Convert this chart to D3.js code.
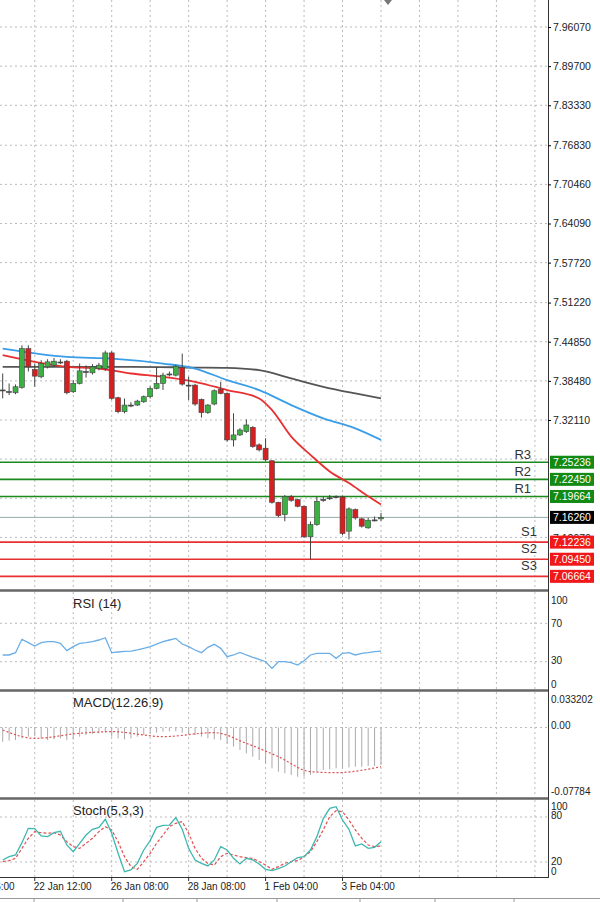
<!DOCTYPE html>
<html>
<head>
<meta charset="utf-8">
<script src="https://cdn.jsdelivr.net/npm/d3@7"></script>
<style>
  body { margin: 0; background: #fff; }
  text { font-family: "Liberation Sans", "DejaVu Sans", sans-serif; }
</style>
</head>
<body>
<div id="chart"></div>
<script>
// candles: open, high, low, close
const opens  = [7.3700,7.3670,7.3654,7.3741,7.4373,7.4033,7.3914,7.4076,7.4103,7.4152,7.4168,7.3671,7.3806,7.3995,7.3979,7.4049,7.4049,7.4303,7.3573,7.3346,7.3454,7.3454,7.3508,7.3590,7.3725,7.3806,7.3957,7.3941,7.4065,7.3779,7.3779,7.3546,7.3330,7.3471,7.3708,7.3644,7.2887,7.2968,7.3022,7.3092,7.2806,7.2752,7.2547,7.1872,7.1672,7.1969,7.1915,7.1807,7.1310,7.1510,7.1915,7.1942,7.1960,7.1958,7.1402,7.1753,7.1602,7.1456,7.1580,7.1602];
const closes = [7.3695,7.3675,7.3752,7.4373,7.4076,7.3925,7.4130,7.4157,7.4168,7.4155,7.3654,7.3806,7.4011,7.4000,7.4076,7.4103,7.4303,7.3563,7.3346,7.3454,7.3450,7.3519,7.3590,7.3725,7.3806,7.3941,7.3960,7.4087,7.3795,7.3775,7.3471,7.3330,7.3454,7.3687,7.3644,7.2887,7.2968,7.3049,7.3130,7.2779,7.2725,7.2563,7.1872,7.1655,7.1969,7.1904,7.1807,7.1310,7.1510,7.1888,7.1918,7.1945,7.1965,7.1364,7.1764,7.1618,7.1483,7.1580,7.1585,7.1626];
const highs  = [7.3968,7.3806,7.3790,7.4427,7.4427,7.4130,7.4184,7.4200,7.4220,7.4200,7.4190,7.3860,7.4130,7.4100,7.4120,7.4140,7.4340,7.4330,7.3590,7.3560,7.3500,7.3540,7.3610,7.3760,7.4076,7.3980,7.4000,7.4110,7.4292,7.3914,7.3800,7.3560,7.3470,7.3710,7.3830,7.3660,7.3320,7.3080,7.3220,7.3110,7.2830,7.2914,7.2560,7.1880,7.1990,7.1990,7.1930,7.1820,7.1560,7.1960,7.1970,7.1990,7.1985,7.1980,7.1790,7.1770,7.1620,7.1620,7.1640,7.1700];
const lows   = [7.3563,7.3617,7.3630,7.3720,7.4000,7.3752,7.3890,7.4050,7.4080,7.4120,7.3630,7.3650,7.3790,7.3900,7.3950,7.4020,7.4010,7.3540,7.3320,7.3320,7.3420,7.3440,7.3490,7.3560,7.3710,7.3700,7.3920,7.3920,7.3770,7.3536,7.3440,7.3250,7.3310,7.3450,7.3630,7.2860,7.2780,7.2950,7.3000,7.2760,7.2700,7.2540,7.1850,7.1630,7.1563,7.1880,7.1790,7.1290,7.0942,7.1490,7.1880,7.1910,7.1945,7.1340,7.1267,7.1590,7.1460,7.1440,7.1560,7.1570];

// moving averages read at sample candles
const maFastIdx = [0,5,10,15,20,25,30,35,40,42,45,48,51,54,57,59];
const maFast    = [7.4265,7.4157,7.4076,7.4049,7.3968,7.3914,7.3833,7.3698,7.3562,7.3373,7.2941,7.2644,7.2374,7.2185,7.1969,7.1834];
const maMidIdx  = [0,10,17,25,30,35,40,45,50,55,59];
const maMid     = [7.4373,7.4238,7.4211,7.4130,7.4049,7.3860,7.3698,7.3454,7.3238,7.3076,7.2887];
const maSlowIdx = [0,10,20,30,35,40,45,50,55,59];
const maSlow    = [7.4076,7.4076,7.4076,7.4065,7.4060,7.4022,7.3887,7.3752,7.3643,7.3563];

const priceTicks = [7.96070,7.89700,7.83330,7.76830,7.70460,7.64090,7.57720,7.51220,7.44850,7.38480,7.32110];
const levelNames = ["R3","R2","R1","S1","S2","S3"];
const levelValues = [7.25236,7.22450,7.19664,7.12236,7.09450,7.06664];
const lastPrice = 7.16260;

const rsi = [37,37,39.4,53.3,49.8,46.3,49.8,50.9,50.9,49.1,41.5,45.7,49.1,49.8,50.9,52.6,55,39.4,40.1,40.8,41.1,42.2,43.9,45.7,48.4,50.9,52.6,54.3,48.4,45.7,42.2,39.4,45,48.1,43.9,35.2,37,39.7,37,34.5,32.4,30,23,30,30,29,26.5,31,37,38.7,38.7,38.7,33.5,38.7,39.4,37,38.7,39.4,40.5,41.1];
const macd = [-0.0171,-0.0159,-0.0151,-0.0131,-0.0110,-0.0102,-0.0131,-0.0151,-0.0143,-0.0131,-0.0151,-0.0143,-0.0110,-0.0090,-0.0078,-0.0070,-0.0062,-0.0110,-0.0131,-0.0143,-0.0131,-0.0110,-0.0090,-0.0070,-0.0062,-0.0050,-0.0046,-0.0046,-0.0062,-0.0078,-0.0090,-0.0110,-0.0131,-0.0143,-0.0151,-0.0191,-0.0231,-0.0271,-0.0312,-0.0352,-0.0392,-0.0433,-0.0493,-0.0533,-0.0553,-0.0573,-0.0594,-0.0594,-0.0573,-0.0533,-0.0513,-0.0505,-0.0493,-0.0493,-0.0481,-0.0473,-0.0473,-0.0465,-0.0465,-0.0453];
const macdSigIdx = [0,5,12,17,25,33,38,43,48,52,59];
const macdSig    = [-0.0030,-0.0131,-0.0070,-0.0050,-0.0110,-0.0062,-0.0191,-0.0352,-0.0533,-0.0545,-0.0473];
const stochK = [22.7,27.1,29.4,45.8,64.9,64.5,54.7,53.8,59.1,60.9,42.7,33.8,44.9,56,63.6,66.2,76.9,58.2,31.6,7.1,9.4,18.2,36,48.5,66.2,68.9,69.3,79.1,63.6,38.2,22.7,18.2,14.7,22.7,40.5,36,24.9,17.4,24.9,22.7,17.4,10.2,8.5,11.1,14.7,20.4,25.8,27.1,36,53.8,77.8,91.6,93.8,76,63.6,41.4,44,38.2,39.6,47.1];
const stochD = [20.4,21.8,24.9,38.2,51.6,60.4,59.1,58.2,59.1,56,47.1,40.5,38.2,44.9,51.6,60.4,67.1,62.7,47.1,27.1,13.8,10.2,20.4,31.6,44.9,56,67.1,71.6,73.8,58.2,38.2,24.9,18.2,16,27.1,31.6,29.4,27.1,25.8,24.9,20.4,16,10.2,13.8,18.2,20.4,21.8,27.1,33.8,47.1,62.7,80.5,88.5,87.1,76,62.7,51.6,42.7,40.5,41.4];

const timeIdx = [-7,5,17,29,41,53];
const timeLabels = ["20 Jan 16:00","22 Jan 12:00","26 Jan 08:00","28 Jan 08:00","1 Feb 04:00","3 Feb 04:00"];

const W = 600, H = 902, plotR = 548;
const svg = d3.select("#chart").append("svg").attr("width", W).attr("height", H);

const x = d3.scaleLinear().domain([0, 59]).range([2.7, 381]);
const y = d3.scaleLinear().domain([7.32110, 7.96070]).range([420, 27]);

// panels: [top, bottom]
const panels = [[0, 589], [592, 689], [692, 797], [800, 877]];

// vertical grid
const gridIdx = d3.range(-1, 90, 6).filter((i) => x(i) > 0 && x(i) < plotR);
panels.forEach(([t, b]) => {
  svg.append("g").selectAll("line").data(gridIdx).join("line")
    .attr("x1", (i) => x(i)).attr("x2", (i) => x(i))
    .attr("y1", t).attr("y2", b)
    .attr("stroke", "#bbb").attr("stroke-dasharray", "2,3");
});

// main horizontal grid
svg.append("g").selectAll("line").data(priceTicks).join("line")
  .attr("x1", 0).attr("x2", plotR).attr("y1", (d) => y(d)).attr("y2", (d) => y(d))
  .attr("stroke", "#bbb").attr("stroke-dasharray", "2,3");
[7.25740, 7.19370, 7.13000, 7.06630].forEach((v) => {
  svg.append("line").attr("x1", 0).attr("x2", plotR).attr("y1", y(v)).attr("y2", y(v))
    .attr("stroke", "#bbb").attr("stroke-dasharray", "2,3");
});

// pivot levels
levelValues.forEach((v, i) => {
  const col = i < 3 ? "#1c8a1c" : "#e83030";
  svg.append("line").attr("x1", 0).attr("x2", plotR).attr("y1", y(v)).attr("y2", y(v))
    .attr("stroke", col).attr("stroke-width", 1.6);
  svg.append("text").attr("x", i < 3 ? 531 : 537).attr("y", i < 3 ? y(v) - 3 : y(v) - 6)
    .attr("text-anchor", "end").attr("font-size", 13).attr("fill", "#333").text(levelNames[i]);
});
svg.append("line").attr("x1", 0).attr("x2", plotR).attr("y1", y(lastPrice)).attr("y2", y(lastPrice))
  .attr("stroke", "#9aa").attr("stroke-width", 1);

// moving averages
const maLine = (idx) => d3.line().x((d, k) => x(idx[k])).y((d) => y(d)).curve(d3.curveMonotoneX);
svg.append("path").datum(maSlow).attr("fill", "none").attr("stroke", "#555").attr("stroke-width", 1.8).attr("d", maLine(maSlowIdx));
svg.append("path").datum(maMid).attr("fill", "none").attr("stroke", "#3a9de8").attr("stroke-width", 1.8).attr("d", maLine(maMidIdx));
svg.append("path").datum(maFast).attr("fill", "none").attr("stroke", "#e83030").attr("stroke-width", 1.8).attr("d", maLine(maFastIdx));

// candles
const cg = svg.append("g");
opens.forEach((o, i) => {
  const c = closes[i];
  const up = c >= o;
  const doji = Math.abs(c - o) < 0.0008;
  cg.append("line").attr("x1", x(i)).attr("x2", x(i)).attr("y1", y(highs[i])).attr("y2", y(lows[i]))
    .attr("stroke", "#444").attr("stroke-width", 1);
  cg.append("rect").attr("x", x(i) - 2.5).attr("width", 5)
    .attr("y", y(Math.max(o, c))).attr("height", Math.max(1, y(Math.min(o, c)) - y(Math.max(o, c))))
    .attr("fill", doji ? "#444" : up ? "#3cb043" : "#d42020")
    .attr("stroke", "#444").attr("stroke-width", 0.6);
});

// RSI
const yR = d3.scaleLinear().domain([0, 100]).range([690.5, 594.5]);
[70, 30].forEach((v) => svg.append("line").attr("x1", 0).attr("x2", plotR).attr("y1", yR(v)).attr("y2", yR(v)).attr("stroke", "#bbb").attr("stroke-dasharray", "2,3"));
svg.append("path").datum(rsi).attr("fill", "none").attr("stroke", "#6aaee8").attr("stroke-width", 1.3)
  .attr("d", d3.line().x((d, i) => x(i)).y((d) => yR(d)));

// MACD
const yM = d3.scaleLinear().domain([-0.07784, 0.033202]).range([792, 700]);
svg.append("line").attr("x1", 0).attr("x2", plotR).attr("y1", yM(0)).attr("y2", yM(0)).attr("stroke", "#bbb").attr("stroke-dasharray", "2,3");
svg.append("g").selectAll("line").data(macd).join("line")
  .attr("x1", (d, i) => x(i)).attr("x2", (d, i) => x(i))
  .attr("y1", yM(0)).attr("y2", (d) => yM(d)).attr("stroke", "#aaa").attr("stroke-width", 1);
svg.append("path").datum(macdSig).attr("fill", "none").attr("stroke", "#e05050").attr("stroke-width", 1.2)
  .attr("stroke-dasharray", "2,2").attr("d", d3.line().x((d, k) => x(macdSigIdx[k])).y((d) => yM(d)).curve(d3.curveMonotoneX));

// Stochastic
const yS = d3.scaleLinear().domain([0, 100]).range([877, 802]);
[80, 20].forEach((v) => svg.append("line").attr("x1", 0).attr("x2", plotR).attr("y1", yS(v)).attr("y2", yS(v)).attr("stroke", "#bbb").attr("stroke-dasharray", "2,3"));
svg.append("path").datum(stochD).attr("fill", "none").attr("stroke", "#e05050").attr("stroke-width", 1.2)
  .attr("stroke-dasharray", "3,2").attr("d", d3.line().x((d, i) => x(i)).y((d) => yS(d)));
svg.append("path").datum(stochK).attr("fill", "none").attr("stroke", "#3cb8b0").attr("stroke-width", 1.3)
  .attr("d", d3.line().x((d, i) => x(i)).y((d) => yS(d)));

// panel separators and right border
[590.5, 690.5, 798.5].forEach((v) => svg.append("line").attr("x1", 0).attr("x2", plotR).attr("y1", v).attr("y2", v).attr("stroke", "#666").attr("stroke-width", 2.5));
svg.append("line").attr("x1", 0).attr("x2", plotR).attr("y1", 877.5).attr("y2", 877.5).attr("stroke", "#333");
svg.append("line").attr("x1", plotR + 0.5).attr("x2", plotR + 0.5).attr("y1", 0).attr("y2", 878).attr("stroke", "#333");

// price axis
const axisFont = 10.5;
svg.append("g").attr("transform", `translate(${plotR},0)`)
  .call(d3.axisRight(y).tickValues(priceTicks).tickFormat(d3.format(".5f")).tickSize(3))
  .call((g) => g.select(".domain").remove())
  .call((g) => g.selectAll("text").attr("font-size", axisFont).attr("fill", "#222").attr("x", 5));

// tick label partly hidden behind S1 box
svg.append("text").attr("x", 553).attr("y", y(7.12970) + 4).attr("font-size", axisFont).attr("fill", "#222").text("7.12970");

const boxes = levelValues.map((v, i) => ({ v, col: i < 3 ? "#138a13" : "#f01818" }));
boxes.push({ v: lastPrice, col: "#000" });
boxes.forEach((b) => {
  svg.append("rect").attr("x", 550).attr("y", y(b.v) - 6.5).attr("width", 44).attr("height", 13).attr("fill", b.col);
  svg.append("text").attr("x", 553).attr("y", y(b.v) + 4).attr("font-size", axisFont).attr("fill", "#fff").text(d3.format(".5f")(b.v));
});

// indicator axes
const sideLabel = (txt, yy) => svg.append("text").attr("x", 551).attr("y", yy).attr("font-size", 10).attr("fill", "#222").text(txt);
sideLabel("100", 604); sideLabel("70", 627); sideLabel("30", 664); sideLabel("0", 688);
sideLabel("0.033202", 703); sideLabel("0.00", 729); sideLabel("-0.07784", 795);
sideLabel("100", 810); sideLabel("80", 819); sideLabel("20", 865); sideLabel("0", 875);

// indicator titles
const title = (txt, yy) => svg.append("text").attr("x", 73).attr("y", yy).attr("font-size", 13).attr("fill", "#222").text(txt);
title("RSI (14)", 608); title("MACD(12.26.9)", 707); title("Stoch(5,3,3)", 815);

// time axis
svg.append("g").selectAll("line").data(timeIdx).join("line")
  .attr("x1", (i) => x(i)).attr("x2", (i) => x(i)).attr("y1", 877).attr("y2", 881).attr("stroke", "#333");
svg.append("g").selectAll("text").data(timeIdx).join("text")
  .attr("x", (i) => x(i) - 1).attr("y", 890).attr("font-size", 10).attr("fill", "#222")
  .text((d, k) => timeLabels[k]);

// bottom tab strip
svg.append("line").attr("x1", 0).attr("x2", W).attr("y1", 898.5).attr("y2", 898.5).attr("stroke", "#999");
[34, 123, 197, 277, 360, 435, 514].forEach((v) => svg.append("line").attr("x1", v).attr("x2", v).attr("y1", 898).attr("y2", 902).attr("stroke", "#999"));

// top marker
svg.append("path").attr("d", "M384,0 L392,0 L388,5 Z").attr("fill", "#777");
</script>
</body>
</html>
